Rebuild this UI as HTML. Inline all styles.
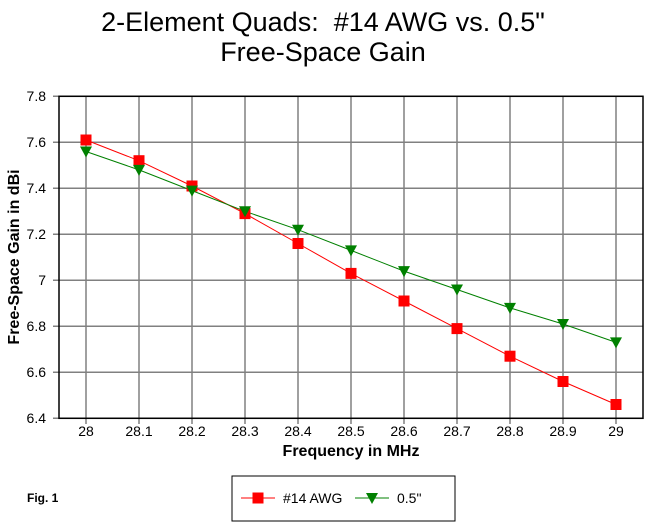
<!DOCTYPE html><html><head><style>body{margin:0;background:#fff}svg{display:block}text{font-family:"Liberation Sans",sans-serif}</style></head><body>
<svg width="646" height="525" xmlns="http://www.w3.org/2000/svg">
<text x="323" y="31" font-size="27" text-anchor="middle">2-Element Quads:&#160; #14 AWG vs. 0.5"</text>
<text x="323" y="61" font-size="27" text-anchor="middle">Free-Space Gain</text>
<g stroke="#808080" stroke-width="1.5">
<line x1="86" y1="96.3" x2="86" y2="424"/><line x1="139" y1="96.3" x2="139" y2="424"/><line x1="192" y1="96.3" x2="192" y2="424"/><line x1="245" y1="96.3" x2="245" y2="424"/><line x1="298" y1="96.3" x2="298" y2="424"/><line x1="351" y1="96.3" x2="351" y2="424"/><line x1="404" y1="96.3" x2="404" y2="424"/><line x1="457" y1="96.3" x2="457" y2="424"/><line x1="510" y1="96.3" x2="510" y2="424"/><line x1="563" y1="96.3" x2="563" y2="424"/><line x1="616" y1="96.3" x2="616" y2="424"/>
<line x1="53" y1="96.3" x2="643" y2="96.3"/><line x1="53" y1="142.3" x2="643" y2="142.3"/><line x1="53" y1="188.3" x2="643" y2="188.3"/><line x1="53" y1="234.3" x2="643" y2="234.3"/><line x1="53" y1="280.3" x2="643" y2="280.3"/><line x1="53" y1="326.3" x2="643" y2="326.3"/><line x1="53" y1="372.3" x2="643" y2="372.3"/><line x1="53" y1="418.3" x2="643" y2="418.3"/>
</g>
<rect x="59" y="96.3" width="584" height="322" fill="none" stroke="#000" stroke-width="1.5"/>
<g font-size="14" text-anchor="middle">
<text x="86" y="436">28</text><text x="139" y="436">28.1</text><text x="192" y="436">28.2</text><text x="245" y="436">28.3</text><text x="298" y="436">28.4</text><text x="351" y="436">28.5</text><text x="404" y="436">28.6</text><text x="457" y="436">28.7</text><text x="510" y="436">28.8</text><text x="563" y="436">28.9</text><text x="616" y="436">29</text>
</g>
<g font-size="14" text-anchor="end">
<text x="46" y="101">7.8</text><text x="46" y="147">7.6</text><text x="46" y="193">7.4</text><text x="46" y="239">7.2</text><text x="46" y="285">7</text><text x="46" y="331">6.8</text><text x="46" y="377">6.6</text><text x="46" y="423">6.4</text>
</g>
<polyline points="86,140 139,160.7 192,186 245,213.6 298,243.5 351,273.4 404,301 457,328.6 510,356.2 563,381.5 616,404.5" fill="none" stroke="#f00"/>
<polyline points="86,151.5 139,169.9 192,190.6 245,211.3 298,229.7 351,250.4 404,271.1 457,289.5 510,307.9 563,324 616,342.4" fill="none" stroke="#008000"/>
<g fill="#f00">
<rect x="80.5" y="134.5" width="11" height="11"/><rect x="133.5" y="155.2" width="11" height="11"/><rect x="186.5" y="180.5" width="11" height="11"/><rect x="239.5" y="208.1" width="11" height="11"/><rect x="292.5" y="238" width="11" height="11"/><rect x="345.5" y="267.9" width="11" height="11"/><rect x="398.5" y="295.5" width="11" height="11"/><rect x="451.5" y="323.1" width="11" height="11"/><rect x="504.5" y="350.7" width="11" height="11"/><rect x="557.5" y="376" width="11" height="11"/><rect x="610.5" y="399" width="11" height="11"/>
</g>
<g fill="#008000">
<polygon points="80,146.5 92,146.5 86,157.5"/><polygon points="133,164.9 145,164.9 139,175.9"/><polygon points="186,185.6 198,185.6 192,196.6"/><polygon points="239,206.3 251,206.3 245,217.3"/><polygon points="292,224.7 304,224.7 298,235.7"/><polygon points="345,245.4 357,245.4 351,256.4"/><polygon points="398,266.1 410,266.1 404,277.1"/><polygon points="451,284.5 463,284.5 457,295.5"/><polygon points="504,302.9 516,302.9 510,313.9"/><polygon points="557,319 569,319 563,330"/><polygon points="610,337.4 622,337.4 616,348.4"/>
</g>
<text x="351" y="456" font-size="16" font-weight="bold" text-anchor="middle">Frequency in MHz</text>
<text transform="translate(19,257) rotate(-90)" font-size="16" font-weight="bold" text-anchor="middle">Free-Space Gain in dBi</text>
<text x="27" y="502" font-size="12" font-weight="bold">Fig. 1</text>
<rect x="232" y="476" width="223" height="45" fill="none" stroke="#000"/>
<line x1="241" y1="498" x2="275" y2="498" stroke="#f00"/><rect x="252.5" y="492.5" width="11" height="11" fill="#f00"/><text x="283" y="503" font-size="14">#14 AWG</text>
<line x1="355" y1="498" x2="389" y2="498" stroke="#008000"/><polygon points="366,493 378,493 372,504" fill="#008000"/><text x="397" y="503" font-size="14">0.5"</text>
</svg></body></html>
